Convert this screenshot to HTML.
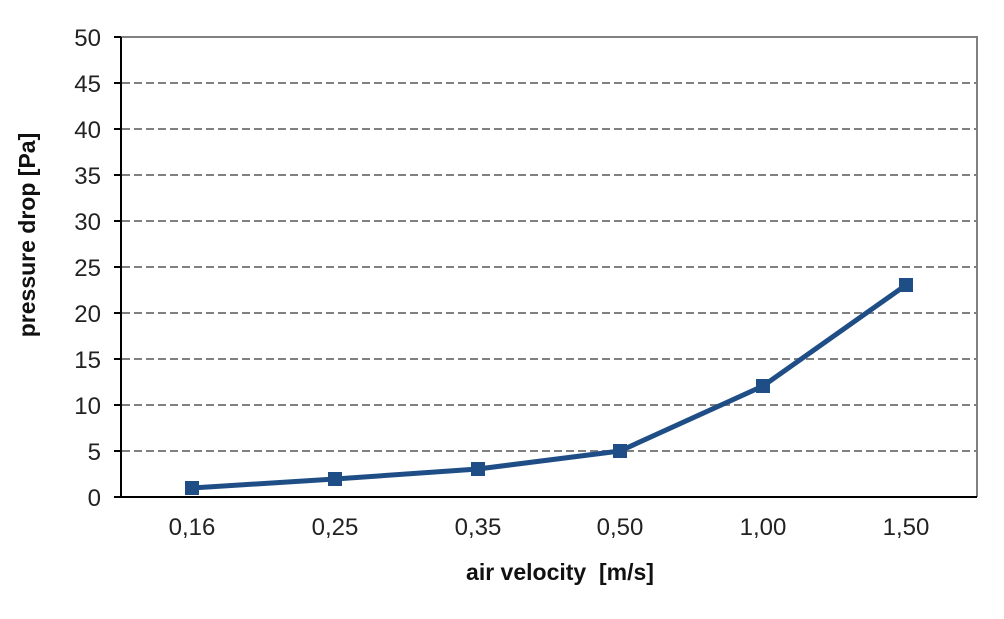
<!DOCTYPE html>
<html><head><meta charset="utf-8"><style>body{margin:0;background:#fff}</style></head><body>
<svg width="1004" height="614" xmlns="http://www.w3.org/2000/svg" font-family="Liberation Sans, Arial, sans-serif">
<rect width="1004" height="614" fill="#fff"/>
<g stroke="#808080" stroke-width="2" stroke-dasharray="8,4">
<line x1="122" y1="83" x2="977" y2="83"/><line x1="122" y1="129" x2="977" y2="129"/>
<line x1="122" y1="175" x2="977" y2="175"/><line x1="122" y1="221" x2="977" y2="221"/>
<line x1="122" y1="267" x2="977" y2="267"/><line x1="122" y1="313" x2="977" y2="313"/>
<line x1="122" y1="359" x2="977" y2="359"/><line x1="122" y1="405" x2="977" y2="405"/>
<line x1="122" y1="451" x2="977" y2="451"/>
</g>
<polyline points="121,37 977,37 977,497" fill="none" stroke="#808080" stroke-width="2"/>
<g stroke="#000" stroke-width="2">
<line x1="121" y1="37" x2="121" y2="497"/><line x1="114" y1="497" x2="977" y2="497"/>
<line x1="114" y1="37" x2="121" y2="37"/><line x1="114" y1="83" x2="121" y2="83"/><line x1="114" y1="129" x2="121" y2="129"/><line x1="114" y1="175" x2="121" y2="175"/><line x1="114" y1="221" x2="121" y2="221"/><line x1="114" y1="267" x2="121" y2="267"/><line x1="114" y1="313" x2="121" y2="313"/><line x1="114" y1="359" x2="121" y2="359"/><line x1="114" y1="405" x2="121" y2="405"/><line x1="114" y1="451" x2="121" y2="451"/>
</g>
<g font-size="24" fill="#222" text-anchor="end">
<text x="101" y="46">50</text><text x="101" y="92">45</text><text x="101" y="138">40</text><text x="101" y="184">35</text><text x="101" y="230">30</text><text x="101" y="276">25</text><text x="101" y="322">20</text><text x="101" y="368">15</text><text x="101" y="414">10</text><text x="101" y="460">5</text><text x="101" y="506">0</text>
</g>
<g font-size="24" fill="#222" text-anchor="middle">
<text x="192" y="535">0,16</text><text x="335" y="535">0,25</text><text x="478" y="535">0,35</text><text x="620" y="535">0,50</text><text x="763" y="535">1,00</text><text x="906" y="535">1,50</text>
</g>
<text x="560" y="580" font-size="23" font-weight="bold" text-anchor="middle" fill="#111" xml:space="preserve">air velocity  [m/s]</text>
<text transform="translate(35,235) rotate(-90)" font-size="23" font-weight="bold" text-anchor="middle" fill="#111">pressure drop [Pa]</text>
<polyline points="192,488 335,479 478,469 620,451 763,386 906,285" fill="none" stroke="#1f4e86" stroke-width="5" stroke-linejoin="round"/>
<g fill="#1f4e86">
<rect x="185" y="481" width="14" height="14"/><rect x="328" y="472" width="14" height="14"/><rect x="471" y="462" width="14" height="14"/><rect x="613" y="444" width="14" height="14"/><rect x="756" y="379" width="14" height="14"/><rect x="899" y="278" width="14" height="14"/>
</g>
</svg>
</body></html>
